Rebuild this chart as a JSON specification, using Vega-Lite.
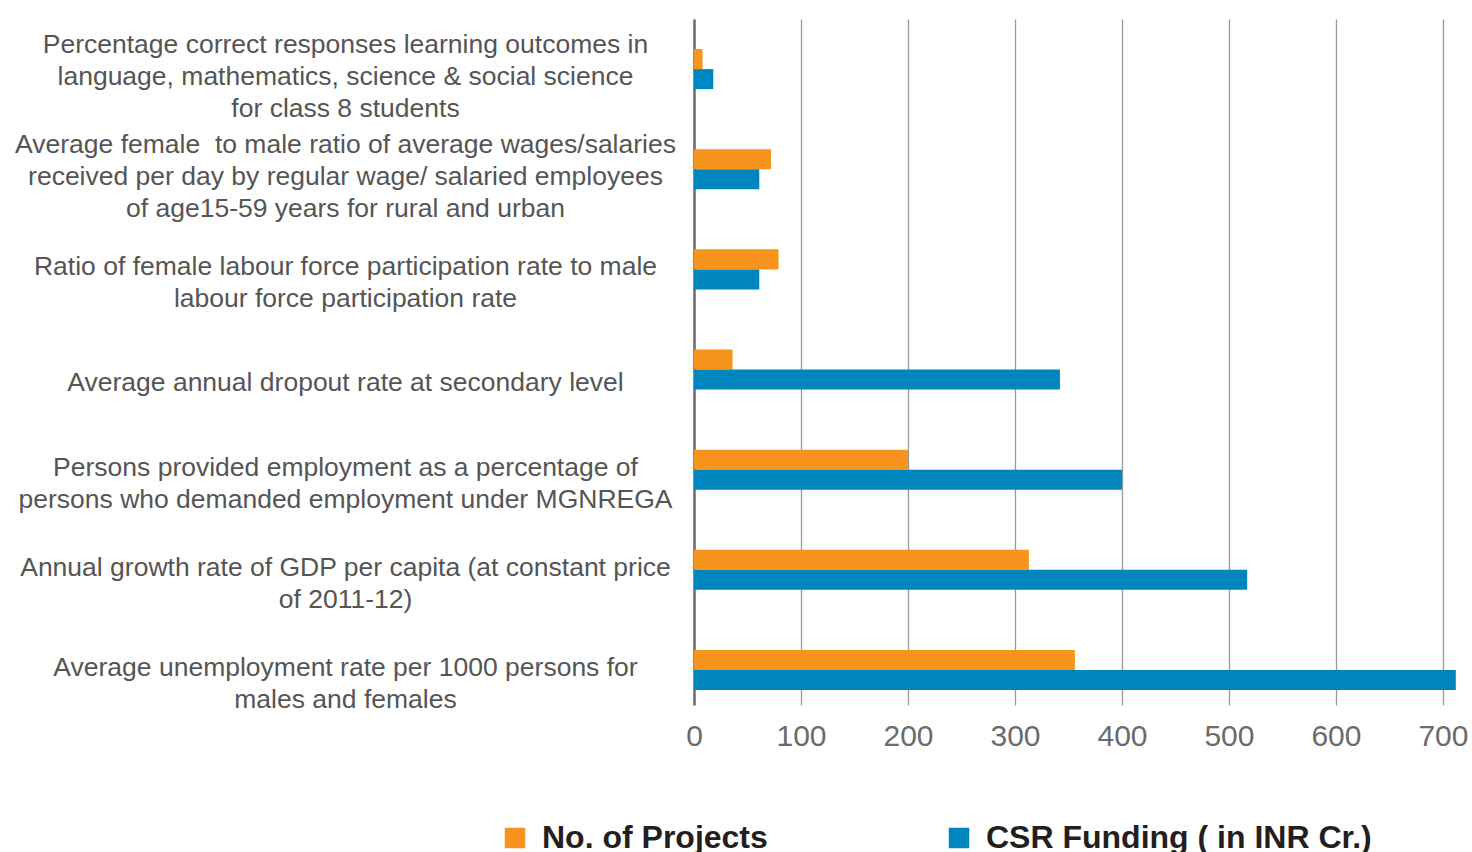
{
  "$schema": "https://vega.github.io/schema/vega-lite/v6.json",
  "autosize": {"type": "none"},
  "padding": {"left": 694, "top": 19, "right": 13, "bottom": 147},
  "width": 765,
  "height": 686,
  "background": "white",
  "config": {"view": {"stroke": null}, "font": "Liberation Sans"},
  "data": {
    "values": [
      {"indicator": "Percentage correct responses learning outcomes in|language, mathematics, science & social science|for class 8 students", "series": "No. of Projects", "value": 8},
      {"indicator": "Percentage correct responses learning outcomes in|language, mathematics, science & social science|for class 8 students", "series": "CSR Funding ( in INR Cr.)", "value": 18},
      {"indicator": "Average female\u00a0 to male ratio of average wages/salaries|received per day by regular wage/ salaried employees|of age15-59 years for rural and urban", "series": "No. of Projects", "value": 72},
      {"indicator": "Average female\u00a0 to male ratio of average wages/salaries|received per day by regular wage/ salaried employees|of age15-59 years for rural and urban", "series": "CSR Funding ( in INR Cr.)", "value": 61},
      {"indicator": "Ratio of female labour force participation rate to male|labour force participation rate", "series": "No. of Projects", "value": 79},
      {"indicator": "Ratio of female labour force participation rate to male|labour force participation rate", "series": "CSR Funding ( in INR Cr.)", "value": 61},
      {"indicator": "Average annual dropout rate at secondary level", "series": "No. of Projects", "value": 36},
      {"indicator": "Average annual dropout rate at secondary level", "series": "CSR Funding ( in INR Cr.)", "value": 342},
      {"indicator": "Persons provided employment as a percentage of|persons who demanded employment under MGNREGA", "series": "No. of Projects", "value": 200},
      {"indicator": "Persons provided employment as a percentage of|persons who demanded employment under MGNREGA", "series": "CSR Funding ( in INR Cr.)", "value": 400},
      {"indicator": "Annual growth rate of GDP per capita (at constant price|of 2011-12)", "series": "No. of Projects", "value": 313},
      {"indicator": "Annual growth rate of GDP per capita (at constant price|of 2011-12)", "series": "CSR Funding ( in INR Cr.)", "value": 517},
      {"indicator": "Average unemployment rate per 1000 persons for|males and females", "series": "No. of Projects", "value": 356},
      {"indicator": "Average unemployment rate per 1000 persons for|males and females", "series": "CSR Funding ( in INR Cr.)", "value": 712}
    ]
  },
  "mark": {"type": "bar"},
  "encoding": {
    "y": {
      "field": "indicator",
      "type": "nominal",
      "sort": null,
      "scale": {"paddingInner": 0.6, "paddingOuter": 0.225, "align": 0.667},
      "axis": {
        "title": null,
        "ticks": false,
        "domain": true,
        "domainColor": "#6d6d6d",
        "domainWidth": 2.5,
        "labelExpr": "split(datum.label, '|')",
        "labelAlign": "center",
        "labelBaseline": "middle",
        "labelPadding": 349,
        "labelFontSize": 26.5,
        "labelLineHeight": 32,
        "labelColor": "#555555",
        "labelLimit": 800,
        "grid": false,
        "labelOffset": {
          "condition": [
            {"test": "length(split(datum.value, '|')) == 3", "value": -24},
            {"test": "length(split(datum.value, '|')) == 2", "value": -2}
          ],
          "value": 13
        }
      }
    },
    "yOffset": {
      "field": "series",
      "type": "nominal",
      "sort": ["No. of Projects", "CSR Funding ( in INR Cr.)"],
      "scale": {"paddingInner": 0, "paddingOuter": 0}
    },
    "x": {
      "field": "value",
      "type": "quantitative",
      "scale": {"domain": [0, 715], "nice": false, "clamp": false},
      "axis": {
        "title": null,
        "values": [0, 100, 200, 300, 400, 500, 600, 700],
        "domain": false,
        "ticks": false,
        "grid": true,
        "gridColor": "#999999",
        "gridWidth": 1.3,
        "labelFontSize": 30,
        "labelColor": "#6b6b6b",
        "labelPadding": 16,
        "labelBaseline": "top",
        "labelFlush": false
      }
    },
    "color": {
      "field": "series",
      "type": "nominal",
      "sort": ["No. of Projects", "CSR Funding ( in INR Cr.)"],
      "scale": {"domain": ["No. of Projects", "CSR Funding ( in INR Cr.)"], "range": ["#F7941D", "#0086BF"]},
      "legend": {
        "title": null,
        "orient": "none",
        "direction": "horizontal",
        "legendX": -195,
        "legendY": 803,
        "symbolType": "square",
        "symbolSize": 420,
        "symbolStrokeWidth": 0,
        "symbolOpacity": 1,
        "labelFont": "Liberation Sans",
        "labelFontSize": 32,
        "labelFontWeight": "bold",
        "labelColor": "#231f20",
        "labelOffset": 11,
        "labelLimit": 600,
        "columnPadding": 175
      }
    }
  }
}
